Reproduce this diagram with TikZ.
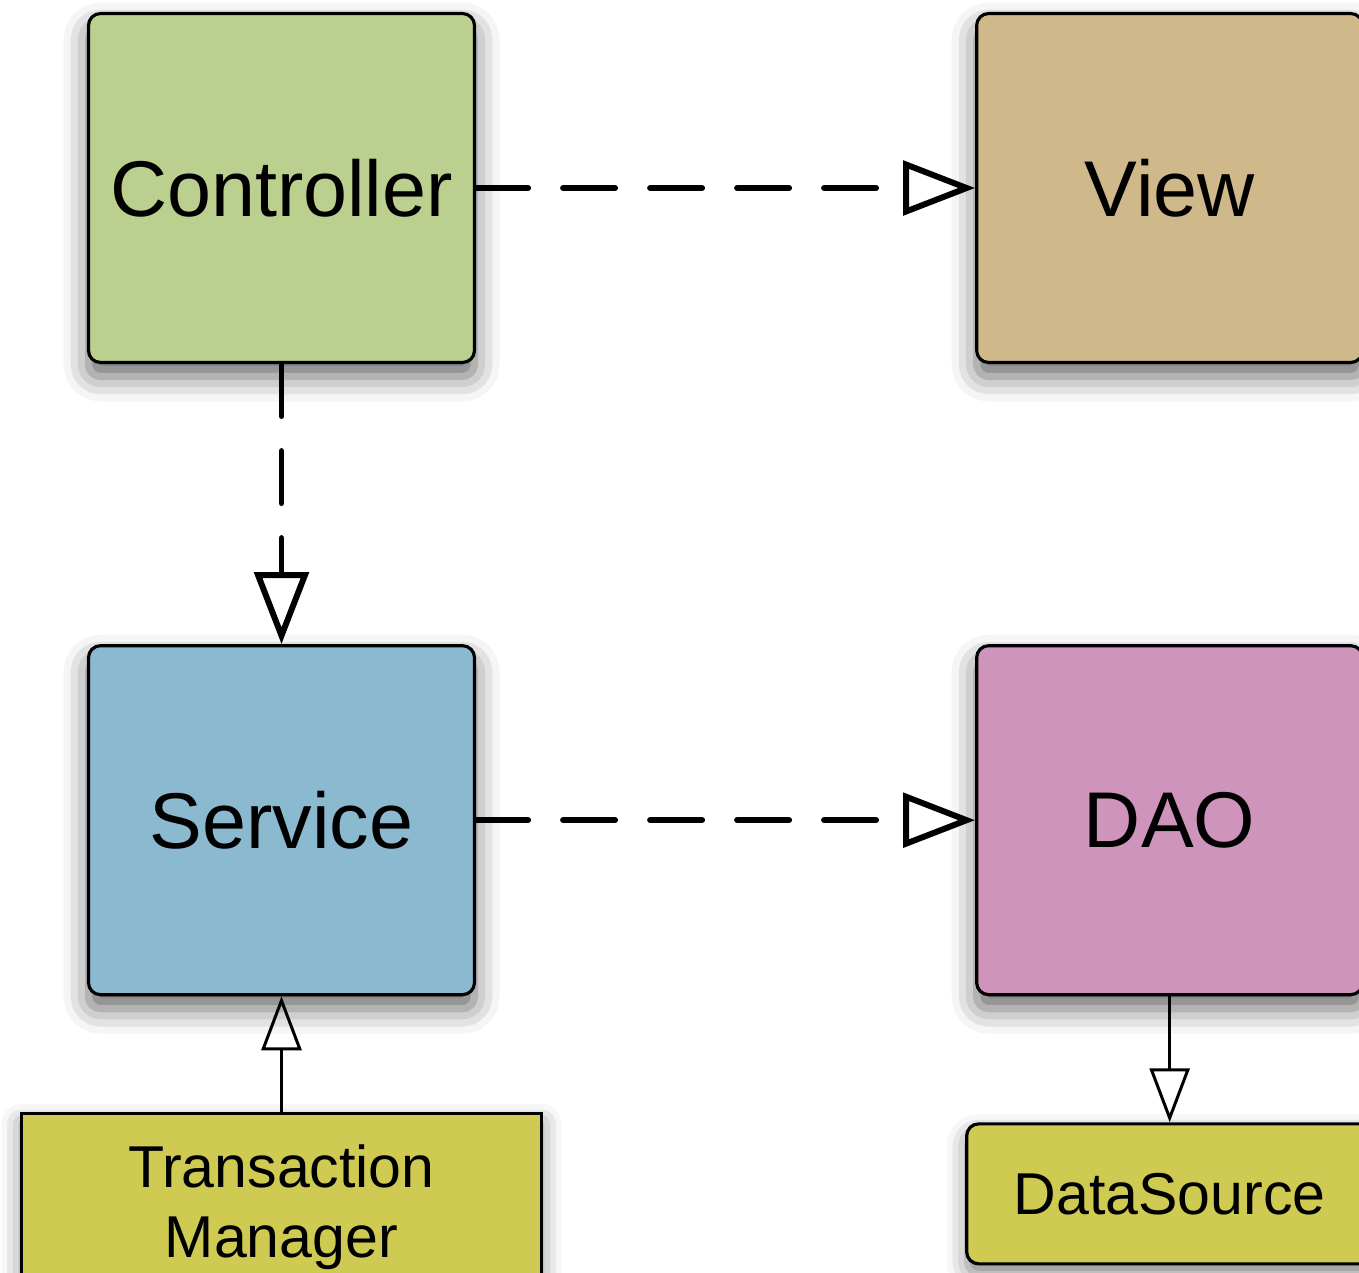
\documentclass[tikz,border=0pt]{standalone}
\usepackage{fontspec}
\setmainfont{Liberation Sans}
\usetikzlibrary{arrows.meta,shadows.blur,positioning}
\definecolor{ctrlgreen}{HTML}{BBCF8E}
\definecolor{viewtan}{HTML}{CFB98A}
\definecolor{serviceblue}{HTML}{8BB9CF}
\definecolor{daopink}{HTML}{CF94BC}
\definecolor{srcyellow}{HTML}{CFCA52}

\begin{document}
\begin{tikzpicture}[
  node distance=2.8cm and 4.99cm,
  layer/.style={draw, line width=.9pt, rounded corners=.12cm,
    minimum width=3.86cm, minimum height=3.49cm,
    font=\fontsize{22.5}{27}\selectfont,
    blur shadow={shadow xshift=0pt, shadow yshift=-.14cm,
      shadow blur radius=.25cm, shadow opacity=60}},
  infra/.style={draw, line width=.9pt, font=\fontsize{16.8}{19.9}\selectfont,
    align=center, inner sep=0pt,
    blur shadow={shadow xshift=0pt, shadow yshift=-.1cm,
      shadow blur radius=.2cm, shadow opacity=50}},
  uses/.style={line width=1.7pt, dash pattern=on .52cm off .35cm, line cap=round,
    -{Triangle[open,length=.72cm,width=.54cm]}},
  wires/.style={line width=.85pt, -{Triangle[open,length=.54cm,width=.4cm]}}
  ]
  \clip (0,0) rectangle (13.59,-12.72);
  \useasboundingbox (0,0) rectangle (13.59,-12.72);

  \node[layer, fill=ctrlgreen] (controller) at (2.815,-1.88) {Controller};
  \node[layer, fill=viewtan, right=of controller] (view) {View};
  \node[layer, fill=serviceblue, below=of controller] (service) {Service};
  \node[layer, fill=daopink, right=of service] (dao) {DAO};
  \node[infra, fill=srcyellow, minimum width=5.2cm, minimum height=1.86cm,
    below=1.16cm of service] (txmanager) {Transaction\\Manager};
  \node[infra, fill=srcyellow, rounded corners=.12cm, minimum width=4.06cm,
    minimum height=1.4cm, below=1.26cm of dao] (datasource) {DataSource};

  \draw[uses] (controller) -- (view);
  \draw[uses] (controller) -- (service);
  \draw[uses] (service) -- (dao);
  \draw[wires] (txmanager) -- (service);
  \draw[wires] (dao) -- (datasource);
\end{tikzpicture}
\end{document}
